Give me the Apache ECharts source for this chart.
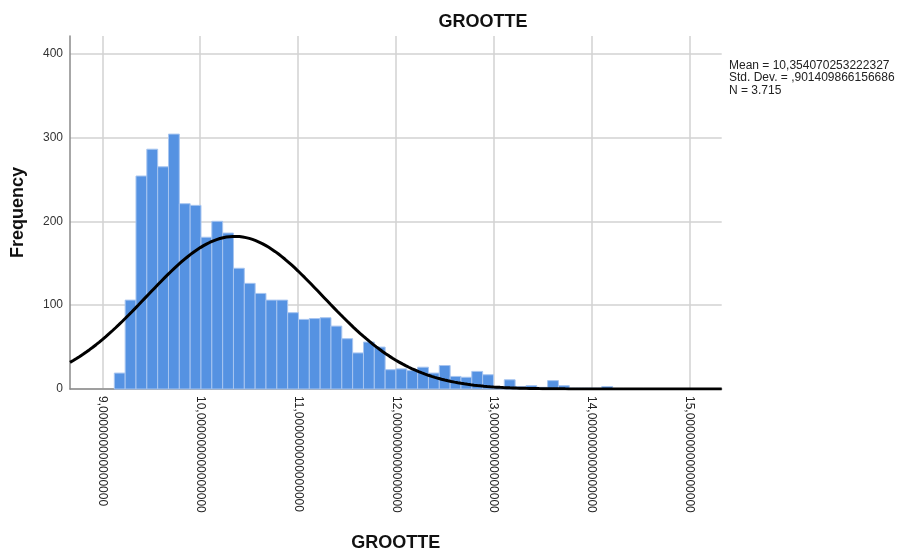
<!DOCTYPE html>
<html>
<head>
<meta charset="utf-8">
<script src="https://cdn.jsdelivr.net/npm/echarts@6/dist/echarts.min.js"></script>
<style>
html,body{margin:0;padding:0;background:#fff;}
#chart{width:902px;height:557px;}
</style>
</head>
<body>
<div id="chart"></div>
<script>
// ---- data ----
const TITLE = 'GROOTTE';
const X_TITLE = 'GROOTTE';
const Y_TITLE = 'Frequency';
const BIN_START = 9.123;
const BIN_WIDTH = 0.1107;
const COUNTS = [19,106,254,286,265,304,221,219,181,200,186,144,126,114,106,106,91,83,84,85,75,60,43,56,50,23,24,22,26,19,28,15,14,21,17,2,11,3,4,2,10,4,1,1,1,3];
const X_TICKS = [9,10,11,12,13,14,15];
const Y_TICKS = [0,100,200,300,400];
const MEAN = 10.354070253222327;
const SD = 0.901409866156686;
const N = 3715;
const STATS = ['Mean = 10,354070253222327','Std. Dev. = ,901409866156686','N = 3.715'];
const X_MIN = 8.67, X_MAX = 15.33, Y_MAX = 421;

// histogram table
const histData = COUNTS.map((c, i) => [BIN_START + i * BIN_WIDTH, BIN_START + (i + 1) * BIN_WIDTH, c]);
// fitted normal curve defined by the stated mean, std. dev. and N
const curve = [];
for (let k = 0; k <= 400; k++) {
  const x = X_MIN + (X_MAX - X_MIN) * k / 400;
  const z = (x - MEAN) / SD;
  curve.push([x, N * BIN_WIDTH * Math.exp(-0.5 * z * z) / (SD * Math.sqrt(2 * Math.PI))]);
}

const FONT = '"Liberation Sans", Arial, sans-serif';
const chart = echarts.init(document.getElementById('chart'));
chart.setOption({
  animation: false,
  backgroundColor: '#fff',
  title: {
    text: TITLE, left: 478, top: 8, textAlign: 'center',
    textStyle: {fontFamily: FONT, fontSize: 18, fontWeight: 'bold', color: '#111'}
  },
  graphic: [{
    type: 'text', left: 729, top: 59,
    style: {text: STATS.join('\n'), font: '12px ' + FONT, fill: '#222', lineHeight: 12.5}
  }],
  grid: {left: 70, right: 180.3, top: 36, bottom: 164},
  xAxis: {
    type: 'value', min: X_MIN, max: X_MAX,
    name: X_TITLE, nameLocation: 'middle', nameGap: 145,
    nameTextStyle: {fontFamily: FONT, fontSize: 18, fontWeight: 'bold', color: '#111'},
    axisLine: {show: true, onZero: false, lineStyle: {color: '#8a8a8a', width: 1.5}},
    axisTick: {show: false, customValues: X_TICKS},
    axisLabel: {
      customValues: X_TICKS, rotate: -90, margin: 7,
      fontFamily: FONT, fontSize: 12, color: '#222',
      formatter: v => v.toFixed(15).replace('.', ',')
    },
    splitLine: {show: true, lineStyle: {color: '#d2d2d2', width: 1.5}}
  },
  yAxis: {
    type: 'value', min: 0, max: Y_MAX, interval: 100,
    name: Y_TITLE, nameLocation: 'middle', nameGap: 43, nameRotate: 90,
    nameTextStyle: {fontFamily: FONT, fontSize: 18, fontWeight: 'bold', color: '#111'},
    axisLine: {show: true, lineStyle: {color: '#8a8a8a', width: 1.5}},
    axisTick: {show: false},
    axisLabel: {
      fontFamily: FONT, fontSize: 12, color: '#333', margin: 7, showMaxLabel: false,
      formatter: v => (Y_TICKS.indexOf(v) >= 0 ? String(v) : '')
    },
    splitLine: {show: true, showMaxLine: false, lineStyle: {color: '#d2d2d2', width: 1.5}}
  },
  series: [{
    type: 'custom',
    data: histData,
    encode: {x: [0, 1], y: 2},
    renderItem: function (params, api) {
      const p0 = api.coord([api.value(0), api.value(2)]);
      const p1 = api.coord([api.value(1), 0]);
      return {
        type: 'rect',
        shape: {x: p0[0], y: p0[1], width: p1[0] - p0[0], height: p1[1] - p0[1]},
        style: {fill: '#5592e2', stroke: '#a7c5f0', lineWidth: 1}
      };
    },
    z: 2
  }, {
    type: 'line',
    data: curve,
    showSymbol: false,
    smooth: false,
    lineStyle: {color: '#000', width: 3},
    z: 3
  }]
});
</script>
</body>
</html>
